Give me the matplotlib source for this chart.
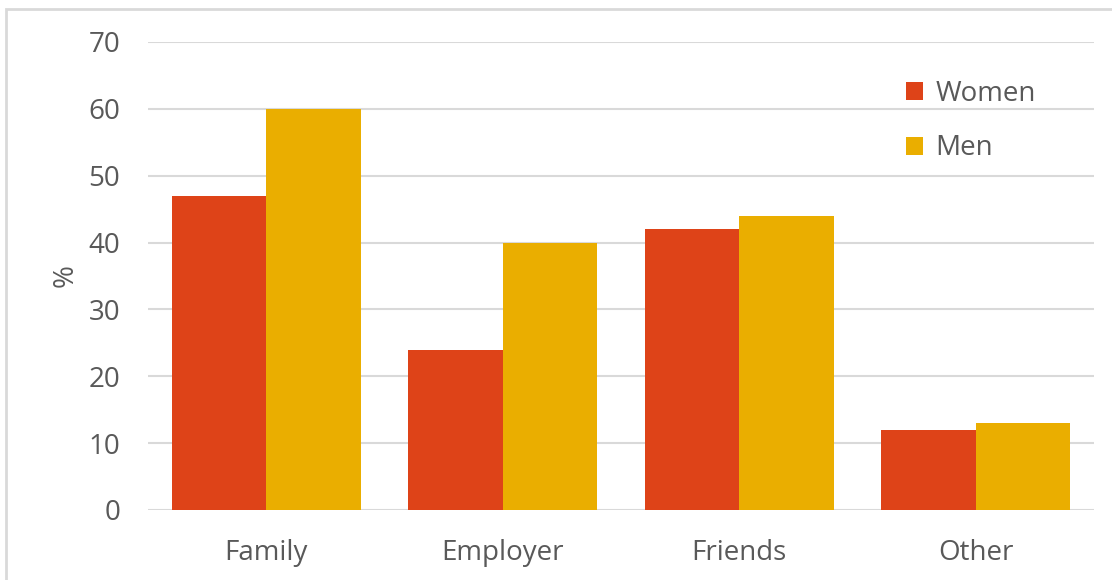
import matplotlib
matplotlib.use('Agg')
import matplotlib.pyplot as plt
import numpy as np
from matplotlib.patches import Rectangle

plt.rcParams['font.family'] = ['Open Sans', 'DejaVu Sans']

categories = ['Family', 'Employer', 'Friends', 'Other']
women = [47, 24, 42, 12]
men = [60, 40, 44, 13]
yticks = [0, 10, 20, 30, 40, 50, 60, 70]

text_col = '#595959'
grid_col = '#D9D9D9'

fig = plt.figure(figsize=(11.12, 5.8), dpi=100)
ax = fig.add_axes([148 / 1112, 1 - 510 / 580, (1094 - 148) / 1112, (510 - 42) / 580])

x = np.arange(len(categories))
w = 0.4
ax.bar(x - w / 2, women, width=w, color='#DE4318', label='Women', zorder=3)
ax.bar(x + w / 2, men, width=w, color='#EAAE00', label='Men', zorder=3)

ax.set_xlim(-0.5, len(categories) - 0.5)
ax.set_ylim(0, 70)
ax.set_yticks(yticks)
ax.set_xticks(x)
ax.set_xticklabels(categories)
ax.tick_params(axis='both', length=0, labelsize=20, colors=text_col)
ax.tick_params(axis='y', pad=20)
ax.tick_params(axis='x', pad=21)
ax.yaxis.grid(True, color=grid_col, linewidth=1.5, zorder=0)
for s in ax.spines.values():
    s.set_visible(False)

ax.set_ylabel('%', fontsize=20, color=text_col, labelpad=6)

leg = ax.legend(loc='upper left', bbox_to_anchor=(0.775, 0.972), frameon=False,
                fontsize=20, handlelength=0.6, handleheight=0.6, handletextpad=0.45,
                labelspacing=0.95)
for t in leg.get_texts():
    t.set_color(text_col)

# chart border
fig.patches.append(Rectangle((6 / 1112, -0.1), 1.2, 1 - 9 / 580 + 0.1,
                             transform=fig.transFigure, fill=False,
                             edgecolor=grid_col, linewidth=2))

fig.savefig('out.png', dpi=100)
